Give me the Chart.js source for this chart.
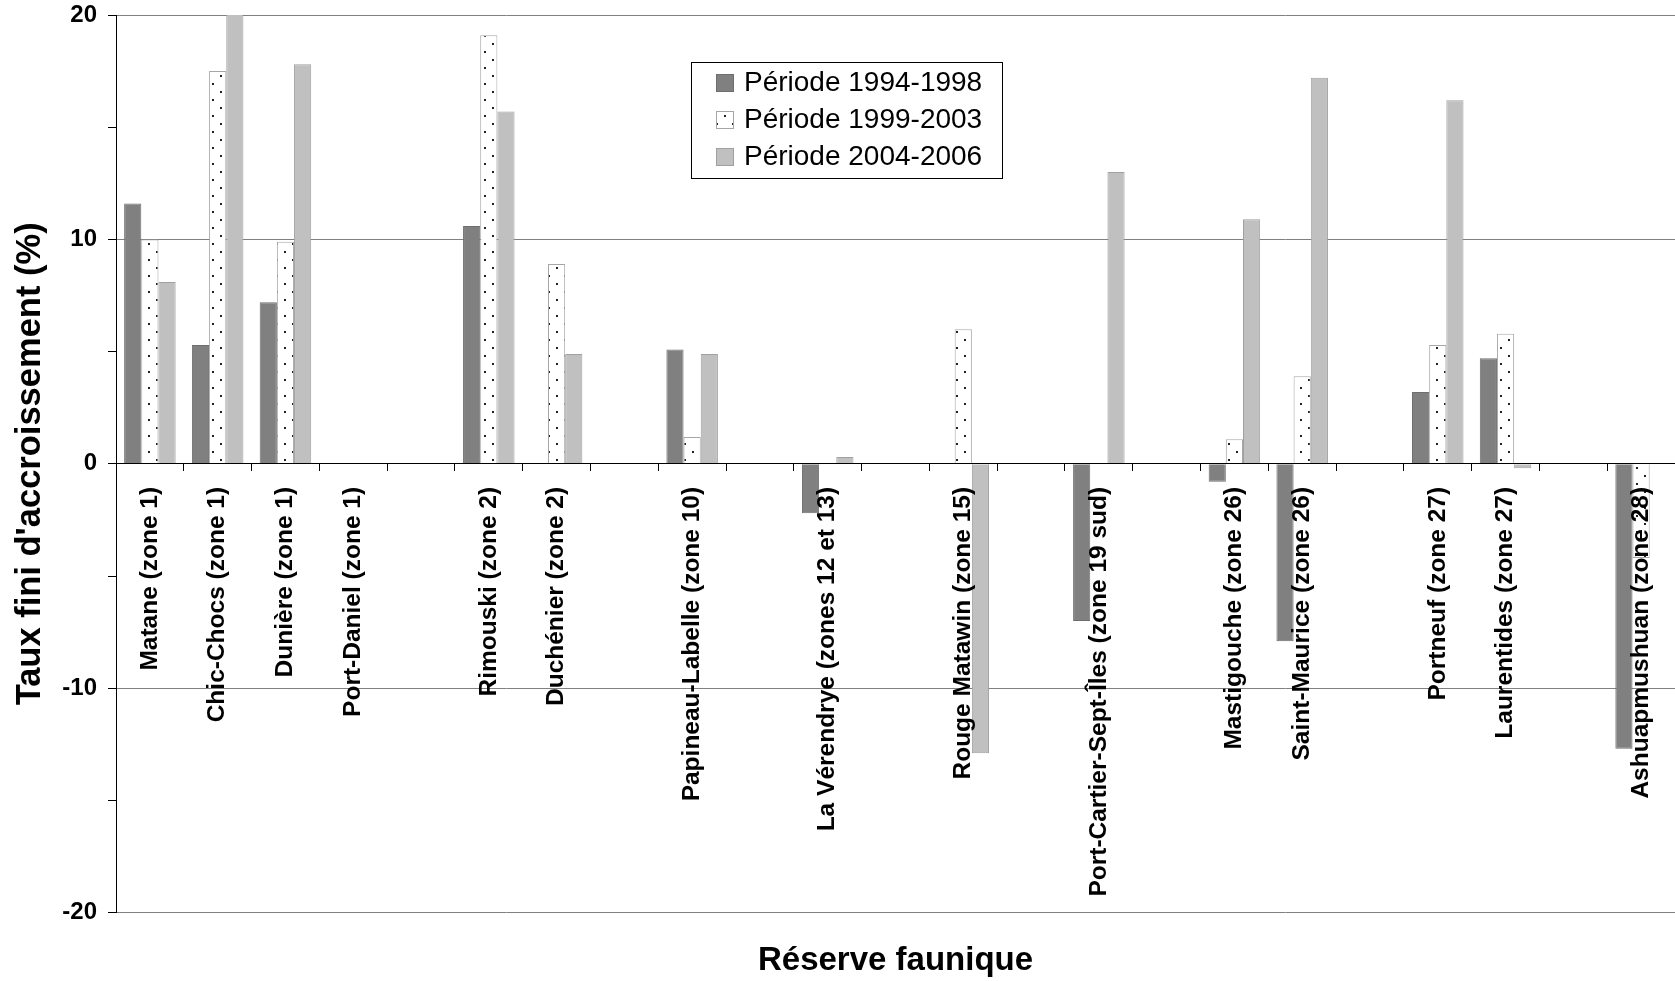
<!DOCTYPE html>
<html>
<head>
<meta charset="utf-8">
<script src="https://cdn.jsdelivr.net/npm/chart.js@4.4.0/dist/chart.umd.min.js"></script>
<style>
body { margin: 0; background: #fff; }
</style>
</head>
<body>
<canvas id="chart" width="1675" height="981"></canvas>
<script>
// categories (empty strings are the gaps between groups)
var reserves = ["Matane (zone 1)", "Chic-Chocs (zone 1)", "Dunière (zone 1)", "Port-Daniel (zone 1)", "",
    "Rimouski (zone 2)", "Duchénier (zone 2)", "", "Papineau-Labelle (zone 10)", "",
    "La Vérendrye (zones 12 et 13)", "", "Rouge Matawin (zone 15)", "", "Port-Cartier-Sept-Îles (zone 19 sud)", "",
    "Mastigouche (zone 26)", "Saint-Maurice (zone 26)", "", "Portneuf (zone 27)", "Laurentides (zone 27)", "",
    "Ashuapmushuan (zone 28)"];

var periode1 = [11.6, 5.3, 7.2, null, null, 10.6, null, null, 5.1, null, -2.2, null, null, null, -7.0, null, -0.8, -7.9, null, 3.2, 4.7, null, -12.7];
var periode2 = [10.0, 17.5, 9.9, null, null, 19.1, 8.9, null, 1.2, null, null, null, 6.0, null, null, null, 1.1, 3.9, null, 5.3, 5.8, null, -4.2];
var periode3 = [8.1, 20.1, 17.8, null, null, 15.7, 4.9, null, 4.9, null, 0.3, null, -12.9, null, 13.0, null, 10.9, 17.2, null, 16.2, -0.2, null, null];

var yTicks = [-20, -10, 0, 10, 20];

Chart.defaults.font.family = '"Liberation Sans", Arial, sans-serif';
Chart.defaults.color = '#000';

function dotPattern() {
    var c = document.createElement('canvas');
    c.width = 16;
    c.height = 16;
    var g = c.getContext('2d');
    g.fillStyle = '#fff';
    g.fillRect(0, 0, 16, 16);
    g.fillStyle = '#222';
    g.fillRect(4, 3, 2, 2);
    g.fillRect(12, 11, 2, 2);
    return g.createPattern(c, 'repeat');
}

// legend drawn as a framed box inside the plot, like the original
var legendBox = {
    id: 'legendBox',
    afterDraw: function (chart) {
        var ctx = chart.ctx;
        ctx.save();
        ctx.fillStyle = '#fff';
        ctx.fillRect(691.5, 62.5, 311, 116);
        ctx.strokeStyle = '#000';
        ctx.lineWidth = 1;
        ctx.strokeRect(691.5, 62.5, 311, 116);
        ctx.font = '28px "Liberation Sans", Arial, sans-serif';
        ctx.textBaseline = 'middle';
        chart.data.datasets.forEach(function (ds, i) {
            var y = 83 + i * 37;
            ctx.fillStyle = ds.backgroundColor;
            ctx.fillRect(716, y - 9, 18, 18);
            ctx.strokeStyle = ds.borderColor;
            ctx.strokeRect(716.5, y - 8.5, 17, 17);
            ctx.fillStyle = '#000';
            ctx.fillText(ds.label, 744, y);
        });
        ctx.restore();
    }
};

var ctx = document.getElementById('chart').getContext('2d');
var myChart = new Chart(ctx, {
    type: 'bar',
    data: {
        labels: reserves,
        datasets: [{
            label: 'Période 1994-1998',
            data: periode1,
            backgroundColor: '#808080',
            borderColor: '#6e6e6e',
            borderWidth: 1
        }, {
            label: 'Période 1999-2003',
            data: periode2,
            backgroundColor: dotPattern(),
            borderColor: '#a6a6a6',
            borderWidth: 1
        }, {
            label: 'Période 2004-2006',
            data: periode3,
            backgroundColor: '#c0c0c0',
            borderColor: '#a0a0a0',
            borderWidth: 1
        }]
    },
    options: {
        responsive: false,
        animation: false,
        devicePixelRatio: 1,
        barPercentage: 1,
        categoryPercentage: 0.76,
        layout: {padding: {top: 15, left: 0, right: 0, bottom: 0}},
        plugins: {
            legend: {display: false},
            tooltip: {enabled: false},
            title: {
                display: true,
                text: 'Réserve faunique',
                position: 'bottom',
                fullSize: false,
                color: '#000',
                font: {size: 33, weight: 'bold', lineHeight: 1.1},
                padding: {top: 30, bottom: 2}
            }
        },
        scales: {
            x: {
                position: {y: 0},
                grid: {drawOnChartArea: false, tickLength: 7, color: '#000', offset: true},
                border: {color: '#000', width: 1, z: 1},
                ticks: {
                    z: 1,
                    autoSkip: false,
                    maxRotation: 90,
                    minRotation: 90,
                    padding: 16,
                    color: '#000',
                    font: {size: 24.5, weight: 'bold'}
                },
                afterFit: function (s) {
                    s.paddingLeft = 0;
                    s.paddingRight = 0;
                }
            },
            y: {
                min: -20,
                max: 20,
                ticks: {
                    stepSize: 5,
                    padding: 11,
                    color: '#000',
                    font: {size: 24, weight: 'bold'},
                    callback: function (v) {
                        return yTicks.indexOf(v) >= 0 ? v : '';
                    }
                },
                grid: {
                    color: function (c) {
                        return c.tick && yTicks.indexOf(c.tick.value) >= 0 ? '#808080' : 'rgba(0,0,0,0)';
                    },
                    tickColor: '#000',
                    tickLength: 8
                },
                border: {color: '#000'},
                title: {
                    display: true,
                    text: "Taux fini d'accroissement (%)",
                    color: '#000',
                    font: {size: 34.5, weight: 'bold'},
                    padding: {top: 10, bottom: 0}
                },
                afterFit: function (s) {
                    s.width = 116;
                    s.paddingTop = 0;
                    s.paddingBottom = 0;
                }
            }
        }
    },
    plugins: [legendBox]
});
</script>
</body>
</html>
